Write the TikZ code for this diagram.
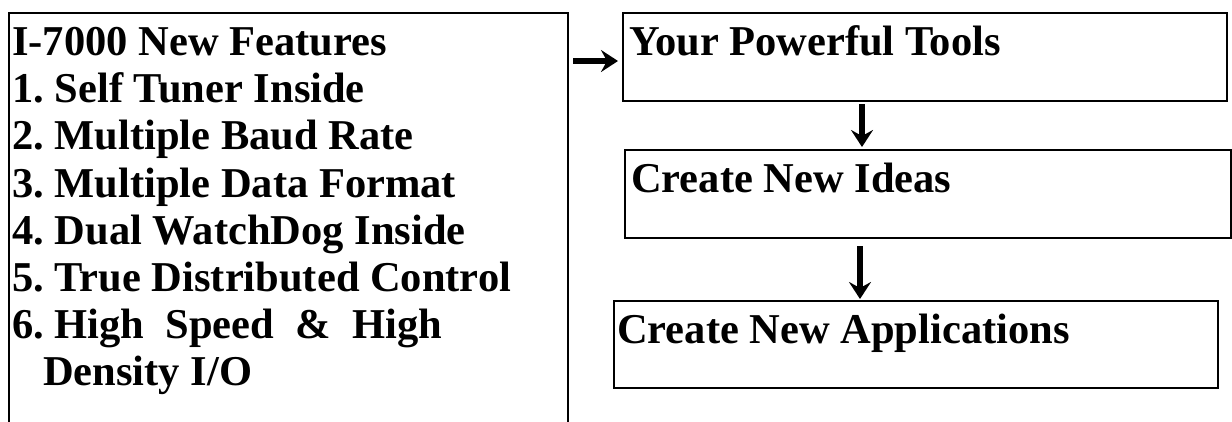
\documentclass[tikz,border=0pt]{standalone}
\usepackage{fontspec}
\setmainfont{Liberation Serif}
\usetikzlibrary{arrows.meta}

\begin{document}
\frenchspacing
\begin{tikzpicture}[x=1pt,y=-1pt,
    font=\fontsize{42.5}{47}\selectfont\bfseries,
    frame box/.style={draw,line width=2pt,inner sep=0pt,anchor=north west},
    line text/.style={inner sep=0pt,anchor=base west},
    flow/.style={line width=6.5pt,-{Stealth[length=17pt,width=22pt,inset=6pt]}}
]
    \useasboundingbox (0,0) rectangle (1232,421);

    % boxes
    \node(features)[frame box,minimum width=559pt,minimum height=440pt] at (8,12) {};
    \node(tools)[frame box,minimum width=604pt,minimum height=88pt] at (622,12) {};
    \node(ideas)[frame box,minimum width=606pt,minimum height=88pt] at (624,149) {};
    \node(apps)[frame box,minimum width=604pt,minimum height=87pt] at (613,300) {};

    % feature list
    \node(f0)[line text] at (12,55) {I-7000 New Features};
    \node(f1)[line text] at (12,102) {1. Self Tuner Inside};
    \node(f2)[line text] at (12,149) {2. Multiple Baud Rate};
    \node(f3)[line text] at (12,197) {3. Multiple Data Format};
    \node(f4)[line text] at (12,244) {4. Dual WatchDog Inside};
    \node(f5)[line text] at (12,291) {5. True Distributed Control};
    \node(f6)[line text] at (12,338) {6. High\ \ Speed\ \ \&\ \ High};
    \node(f7)[line text] at (43,385) {Density I/O};

    % box titles
    \node(t1)[line text] at (629,55) {Your Powerful Tools};
    \node(t2)[line text] at (631,192) {Create New Ideas};
    \node(t3)[line text] at (617,343) {Create New Applications};

    % arrows
    \coordinate(c1) at (862,0);
    \coordinate(c2) at (860,0);
    \draw[flow,shorten <=4pt,shorten >=4pt]([yshift=-4pt]features.east |- tools.west)--([yshift=-4pt]tools.west);
    \draw[flow,shorten <=2pt,shorten >=2pt](tools.south -| c1)--(ideas.north -| c1);
    \draw[flow,shorten <=7pt,shorten >=1pt](ideas.south -| c2)--(apps.north -| c2);
\end{tikzpicture}
\end{document}
